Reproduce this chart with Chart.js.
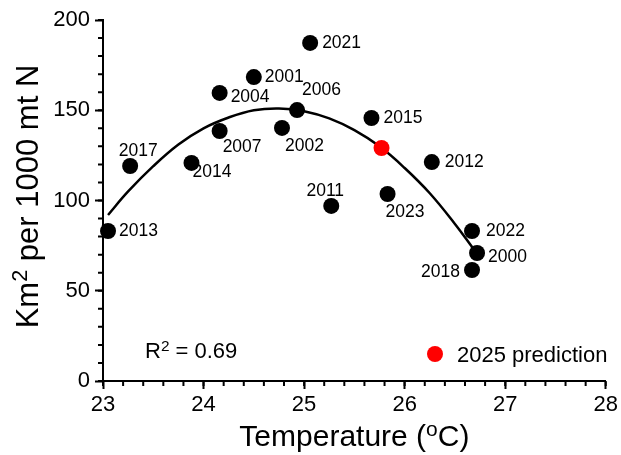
<!DOCTYPE html>
<html>
<head>
<meta charset="utf-8">
<script src="https://cdn.jsdelivr.net/npm/chart.js@4"></script>
<style>
html, body { margin: 0; padding: 0; background: #fff; }
#wrap { width: 621px; height: 455px; }
</style>
</head>
<body>
<div id="wrap"><canvas id="grafico"></canvas></div>
<script>
const years = ["2013", "2017", "2014", "2004", "2007", "2001", "2002", "2006", "2021", "2011", "2015", "2023", "2012", "2022", "2000", "2018"];
const temperature = [23.05, 23.27, 23.88, 24.16, 24.16, 24.50, 24.78, 24.93, 25.06, 25.27, 25.67, 25.83, 26.27, 26.67, 26.72, 26.67];
const area = [83.1, 119.1, 120.8, 159.6, 138.5, 168.4, 140.2, 150.1, 187.3, 97.0, 145.7, 103.6, 121.3, 83.1, 70.9, 61.5];

const predictionTemp = [25.77];
const predictionArea = [129.1];

// fitted curve
const fitTemp = [23.05, 23.25, 23.5, 23.75, 24.0, 24.25, 24.5, 24.75, 25.0, 25.25, 25.5, 25.75, 26.0, 26.25, 26.5, 26.68];
const fitArea = [92, 105, 119, 131, 140, 146, 150, 151, 149.5, 145.5, 139, 130, 118, 104, 87, 73.5];

const xTicks = [23, 24, 25, 26, 27, 28];
const yTicks = [0, 50, 100, 150, 200];
const rSquared = "0.69";

// label placement next to each point: [dx, dy, align]
const labelPlace = [
    [11, 0, "left"], [8, -15, "center"], [1, 9, "left"], [11, 4, "left"],
    [3, 16, "left"], [11, 0, "left"], [3, 18, "left"], [5, -20, "left"],
    [12, 0, "left"], [-6, -15, "center"], [12, 0, "left"], [-2, 18, "left"],
    [13, 0, "left"], [14, 0, "left"], [11, 4, "left"], [-12, 2, "right"]
];

const FONT = "'Liberation Sans', Arial, Helvetica, sans-serif";

function drawRich(ctx, parts, x, y, size, align) {
    const widths = parts.map(([t, sup]) => {
        ctx.font = (sup ? size * 0.7 : size) + "px " + FONT;
        return ctx.measureText(t).width;
    });
    const total = widths.reduce((a, b) => a + b, 0);
    let cx = align === "center" ? x - total / 2 : x;
    ctx.textAlign = "left";
    ctx.textBaseline = "alphabetic";
    parts.forEach(([t, sup], i) => {
        ctx.font = (sup ? size * 0.7 : size) + "px " + FONT;
        ctx.fillText(t, cx, sup ? y - size * 0.34 : y);
        cx += widths[i];
    });
}

const extras = {
    id: "extras",
    afterDraw(chart) {
        const { ctx, chartArea, scales: { x, y } } = chart;
        ctx.save();
        ctx.fillStyle = "#000";
        ctx.strokeStyle = "#000";
        ctx.lineWidth = 2;

        // minor ticks
        ctx.beginPath();
        for (let i = 0; i <= 25; i++) {
            const px = x.getPixelForValue(23 + i * 0.2);
            ctx.moveTo(px, chartArea.bottom);
            ctx.lineTo(px, chartArea.bottom + 5);
        }
        for (let i = 0; i <= 20; i++) {
            const py = y.getPixelForValue(i * 10);
            ctx.moveTo(chartArea.left, py);
            ctx.lineTo(chartArea.left - 5, py);
        }
        ctx.stroke();

        // year labels
        ctx.font = "17.5px " + FONT;
        ctx.textBaseline = "middle";
        years.forEach((yr, i) => {
            const [dx, dy, align] = labelPlace[i];
            ctx.textAlign = align;
            ctx.fillText(yr, x.getPixelForValue(temperature[i]) + dx, y.getPixelForValue(area[i]) + dy);
        });

        // axis titles
        const midX = (chartArea.left + chartArea.right) / 2;
        const midY = (chartArea.top + chartArea.bottom) / 2;
        drawRich(ctx, [["Temperature (", false], ["o", true], ["C)", false]], midX, 446, 30, "center");
        ctx.save();
        ctx.translate(38, midY - 4);
        ctx.rotate(-Math.PI / 2);
        drawRich(ctx, [["Km", false], ["2", true], [" per 1000 mt N", false]], 0, 0, 31, "center");
        ctx.restore();

        // R squared
        drawRich(ctx, [["R", false], ["2", true], [" = " + rSquared, false]], 145, 358, 22, "left");

        // legend
        ctx.fillStyle = "#ff0000";
        ctx.beginPath();
        ctx.arc(435, 354, 8, 0, Math.PI * 2);
        ctx.fill();
        ctx.fillStyle = "#000";
        drawRich(ctx, [["2025 prediction", false]], 457, 362, 22, "left");
        ctx.restore();
    }
};

function buildChart() {
    const ctx = document.getElementById("grafico").getContext("2d");
    new Chart(ctx, {
        type: "scatter",
        data: {
            datasets: [
                {
                    label: "Years",
                    data: temperature.map((t, i) => ({ x: t, y: area[i] })),
                    backgroundColor: "#000",
                    borderWidth: 0,
                    pointRadius: 8,
                    clip: false
                },
                {
                    label: "2025 prediction",
                    data: predictionTemp.map((t, i) => ({ x: t, y: predictionArea[i] })),
                    backgroundColor: "#ff0000",
                    borderWidth: 0,
                    pointRadius: 8,
                    clip: false
                },
                {
                    label: "Fit",
                    type: "line",
                    data: fitTemp.map((t, i) => ({ x: t, y: fitArea[i] })),
                    borderColor: "#000",
                    borderWidth: 2.5,
                    pointRadius: 0,
                    tension: 0.4,
                    fill: false
                }
            ]
        },
        options: {
            responsive: false,
            animation: false,
            events: [],
            layout: { padding: { top: 20, right: 14, left: 0, bottom: 0 } },
            plugins: { legend: { display: false }, tooltip: { enabled: false } },
            scales: {
                x: {
                    type: "linear",
                    min: xTicks[0],
                    max: xTicks[xTicks.length - 1],
                    afterBuildTicks: s => { s.ticks = xTicks.map(v => ({ value: v })); },
                    afterFit: s => { s.height = 74; },
                    ticks: { color: "#000", font: { size: 22, family: FONT }, padding: 3, maxRotation: 0 },
                    grid: { drawOnChartArea: false, tickLength: 8, tickWidth: 2, tickColor: "#000" },
                    border: { color: "#000", width: 2 }
                },
                y: {
                    type: "linear",
                    min: yTicks[0],
                    max: yTicks[yTicks.length - 1],
                    afterBuildTicks: s => { s.ticks = yTicks.map(v => ({ value: v })); },
                    afterFit: s => { s.width = 103; },
                    ticks: { color: "#000", font: { size: 22, family: FONT }, padding: 5 },
                    grid: { drawOnChartArea: false, tickLength: 8, tickWidth: 2, tickColor: "#000" },
                    border: { color: "#000", width: 2 }
                }
            }
        },
        plugins: [extras]
    });
}

const cv = document.getElementById("grafico");
cv.width = 621;
cv.height = 455;
document.addEventListener("DOMContentLoaded", buildChart);
</script>
</body>
</html>
